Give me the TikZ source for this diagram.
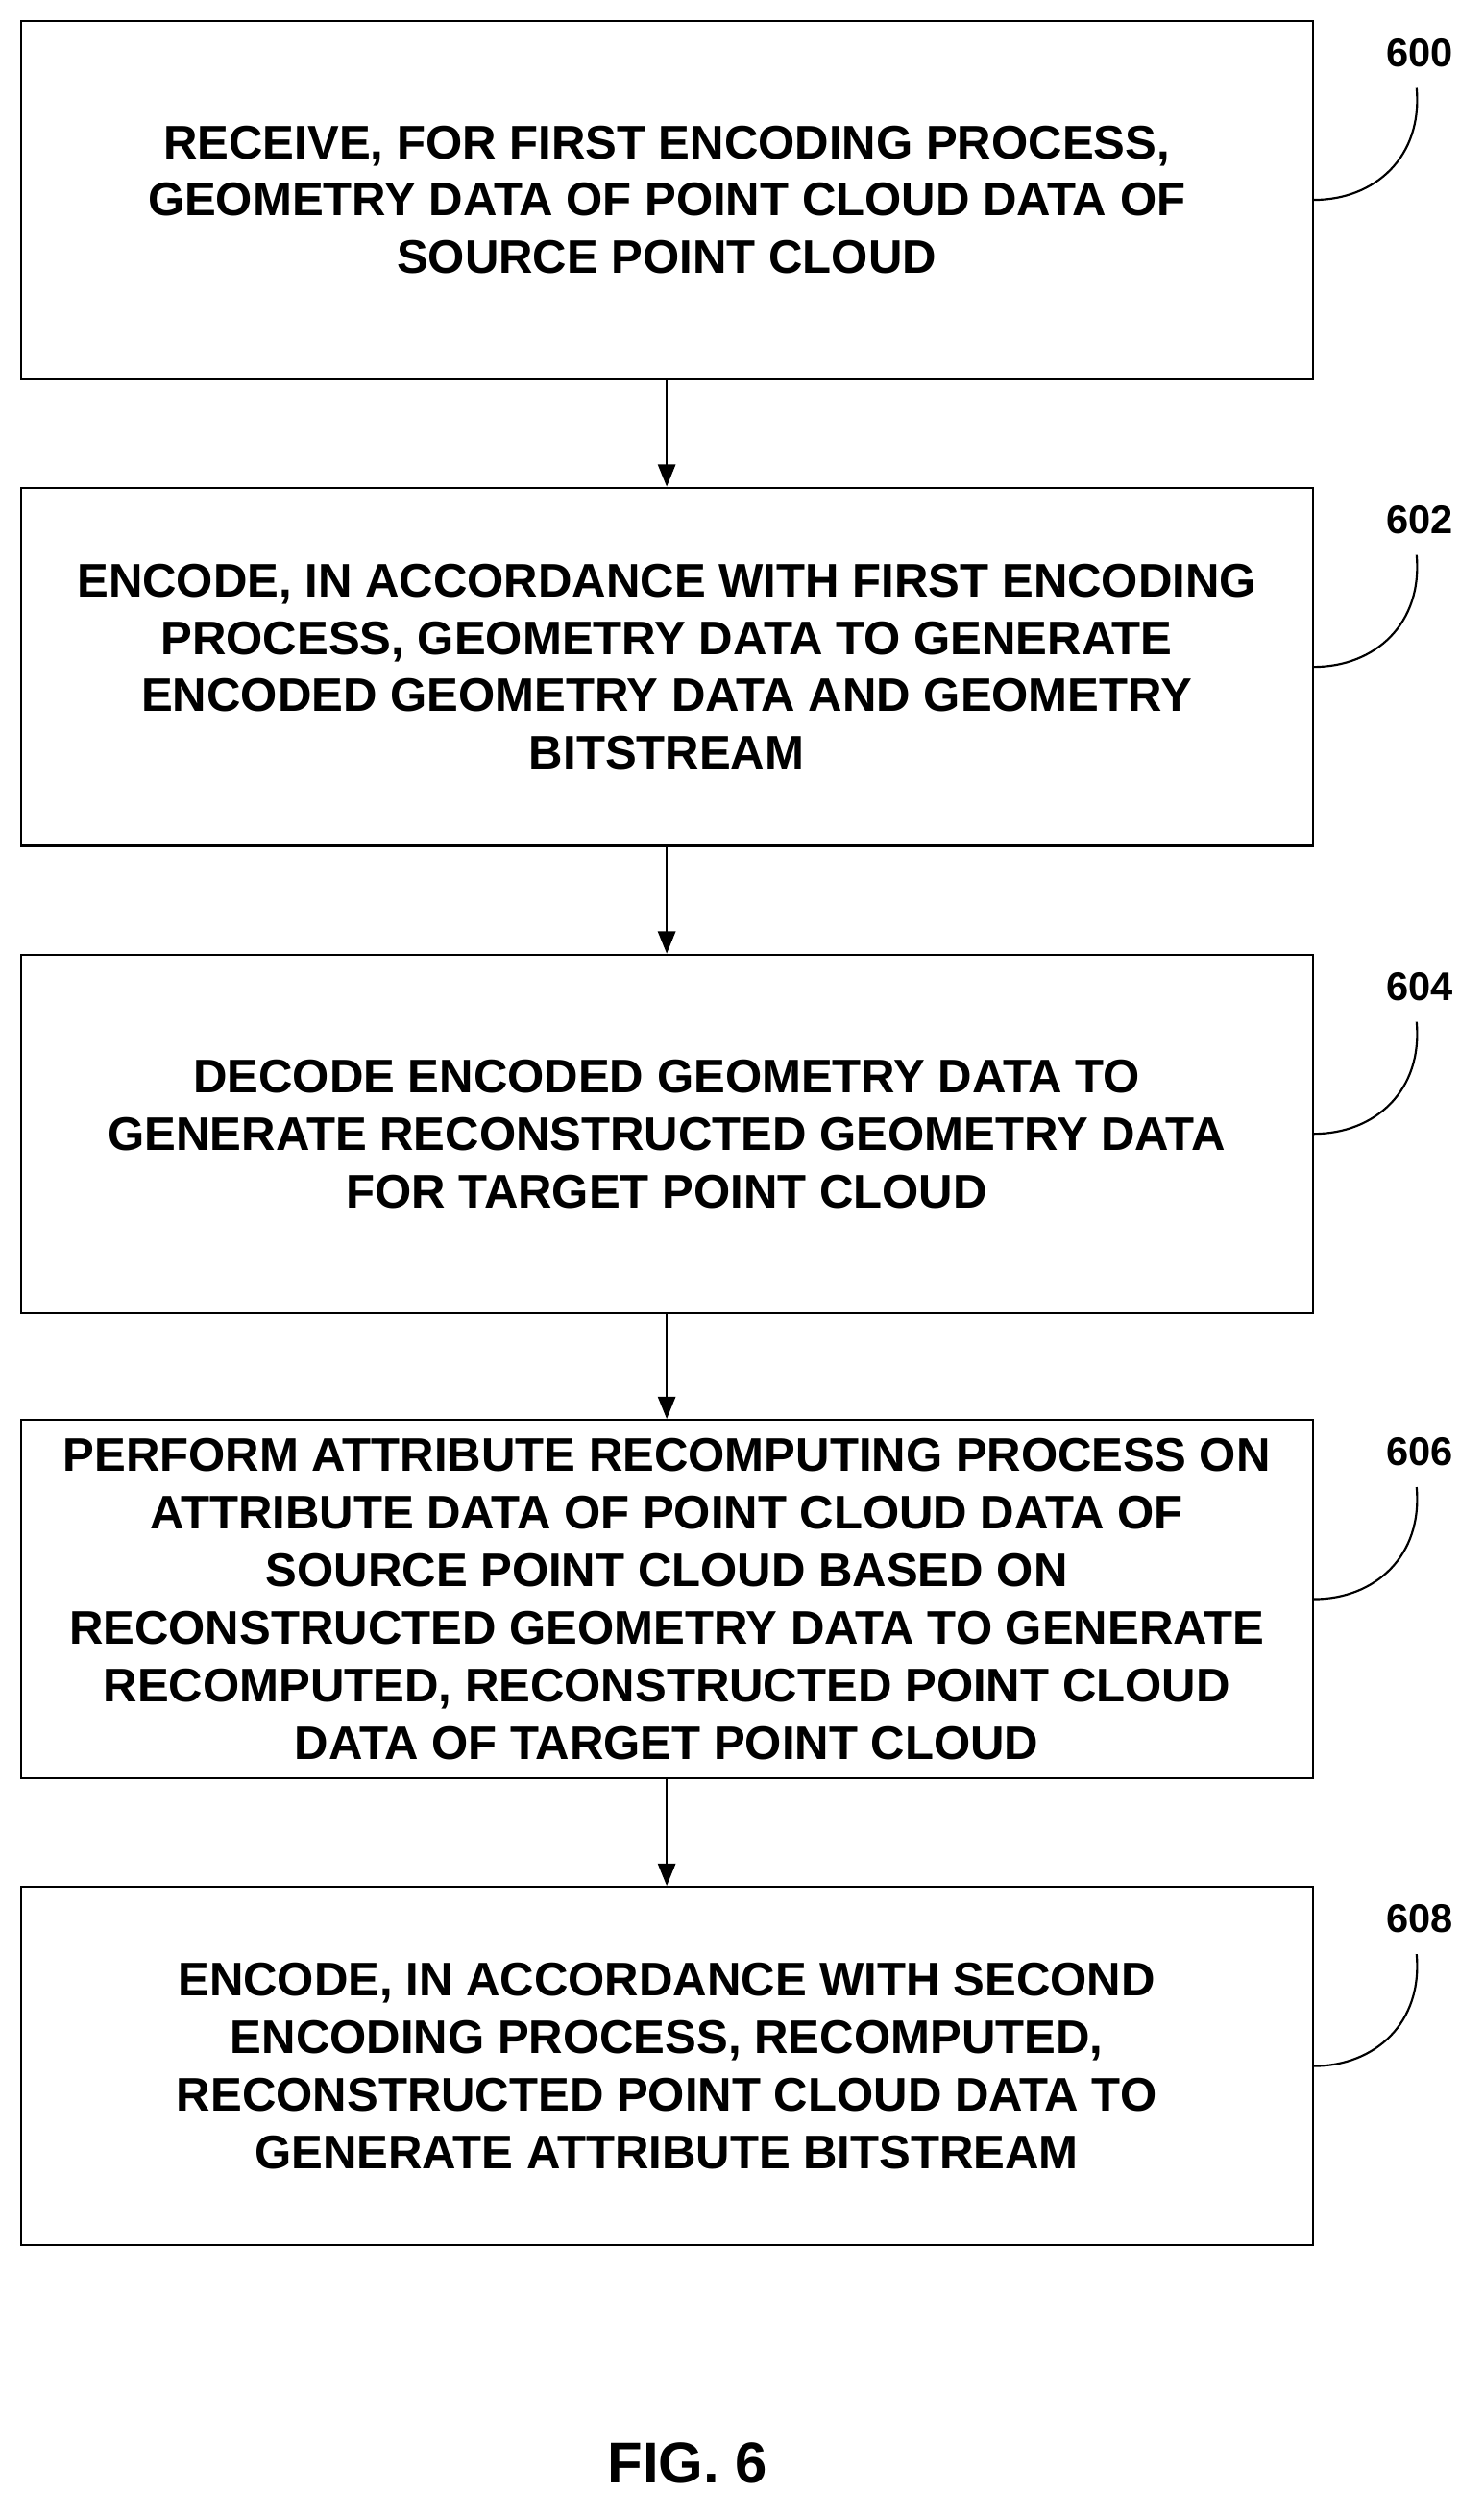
\documentclass[tikz,border=0pt]{standalone}
\usepackage{fontspec}
\setmainfont{Liberation Sans}
\usetikzlibrary{arrows.meta}
\begin{document}
\begin{tikzpicture}[x=1pt,y=-1pt,
  box/.style={draw,line width=1.3pt,minimum width=808pt,minimum height=224pt,align=center,font=\fontsize{29.5}{36}\selectfont\bfseries,inner sep=0pt},
  lab/.style={font=\fontsize{25}{28}\selectfont\bfseries},
  arr/.style={-{Triangle[length=14pt,width=11pt]},line width=1.3pt},
  lead/.style={line width=1.3pt}]
\useasboundingbox (0,0) rectangle (928,1574);
\node[box] (b0) at (417,125) {RECEIVE, FOR FIRST ENCODING PROCESS,\\GEOMETRY DATA OF POINT CLOUD DATA OF\\SOURCE POINT CLOUD};
\node[box] (b1) at (417,417) {ENCODE, IN ACCORDANCE WITH FIRST ENCODING\\PROCESS, GEOMETRY DATA TO GENERATE\\ENCODED GEOMETRY DATA AND GEOMETRY\\BITSTREAM};
\node[box] (b2) at (417,709) {DECODE ENCODED GEOMETRY DATA TO\\GENERATE RECONSTRUCTED GEOMETRY DATA\\FOR TARGET POINT CLOUD};
\node[box] (b3) at (417,1000) {PERFORM ATTRIBUTE RECOMPUTING PROCESS ON\\ATTRIBUTE DATA OF POINT CLOUD DATA OF\\SOURCE POINT CLOUD BASED ON\\RECONSTRUCTED GEOMETRY DATA TO GENERATE\\RECOMPUTED, RECONSTRUCTED POINT CLOUD\\DATA OF TARGET POINT CLOUD};
\node[box] (b4) at (417,1292) {ENCODE, IN ACCORDANCE WITH SECOND\\ENCODING PROCESS, RECOMPUTED,\\RECONSTRUCTED POINT CLOUD DATA TO\\GENERATE ATTRIBUTE BITSTREAM};
\draw[arr] (b0) -- (b1);
\draw[arr] (b1) -- (b2);
\draw[arr] (b2) -- (b3);
\draw[arr] (b3) -- (b4);
\foreach \n/\t/\y in {0/600/33,1/602/325,2/604/617,3/606/908,4/608/1200}{
  \node[lab] (l\n) at (888,\y) {\t};
  \coordinate (c\n) at (886,\y+22);
  \draw[lead] (b\n.east |- 0,\y+92) .. controls (860,\y+92) and (890,\y+65) .. (c\n);
}
\node[font=\fontsize{36}{40}\selectfont\bfseries] (fig) at (430,1540) {FIG. 6};
\end{tikzpicture}
\end{document}
